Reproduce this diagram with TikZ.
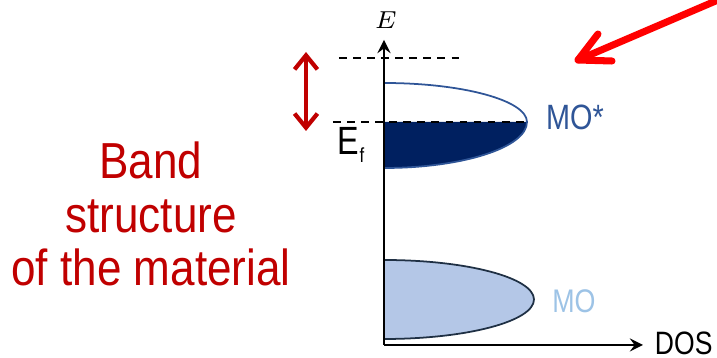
\documentclass[tikz,border=0pt]{standalone}
\usepackage{fontspec}
\usepackage{tikz}
\usetikzlibrary{arrows.meta}
\newfontfamily\narrowsans[FakeStretch=0.82]{Liberation Sans}
\newfontfamily\bandsans[FakeStretch=0.87]{Liberation Sans}
\definecolor{navyband}{HTML}{002060}
\definecolor{starblue}{HTML}{2F5597}
\definecolor{lightband}{HTML}{B4C7E7}
\definecolor{molabel}{HTML}{9DC3E6}
\definecolor{darkred}{HTML}{C00000}
\definecolor{bandedge}{HTML}{1F3044}

\begin{document}
\begin{tikzpicture}[>=stealth,x=0.01cm,y=-0.01cm,inner sep=0pt,outer sep=0pt]
  \useasboundingbox (0,0) rectangle (717,358);
  % bands
  \fill[lightband] (384,260) arc[start angle=-90,end angle=90,x radius=150,y radius=39.5];
  \draw[bandedge,line width=.5pt] (384,260) arc[start angle=-90,end angle=90,x radius=150,y radius=39.5];
  \fill[navyband] (384,122) -- (527,122) arc[start angle=0,end angle=90,x radius=143,y radius=46] -- cycle;
  \draw[starblue,line width=.5pt] (384,83) arc[start angle=-90,end angle=0,x radius=143,y radius=39]
    arc[start angle=0,end angle=90,x radius=143,y radius=46];
  % axes
  \coordinate (O) at (384,345);
  \coordinate (Etip) at (384,40);
  \coordinate (Dtip) at (643,345);
  \node (E) at (386,20) {\fontsize{7}{8}\selectfont$E$};
  \node[anchor=west,font=\narrowsans\fontsize{9.2}{10}\selectfont] (DOS) at (655,343) {DOS};
  \draw[->,line width=.65pt] (O) -- (Etip);
  \draw[->,line width=.65pt] (O) -- (Dtip);
  % levels
  \coordinate (Ltop) at (339,58);
  \coordinate (Rtop) at (465,58);
  \coordinate (Lf) at (333,122);
  \coordinate (Rf) at (527,122);
  \draw[dashed,line width=.45pt,dash pattern=on 2.2pt off 1.8pt] (Ltop) -- (Rtop);
  \draw[dashed,line width=.45pt,dash pattern=on 2.2pt off 1.8pt] (Lf) -- (Rf);
  \node[anchor=base west,font=\narrowsans\fontsize{11.2}{12}\selectfont] (Ef) at (338,155)
    {E\raisebox{-0.08cm}{\fontsize{5.8}{6}\selectfont f}};
  % labels
  \node[text=starblue,font=\narrowsans\fontsize{10}{11}\selectfont] (MOs) at (575,117) {MO*};
  \node[text=molabel,font=\narrowsans\fontsize{9.3}{10}\selectfont] (MO) at (574,301) {MO};
  \node[text=darkred,align=center,font=\bandsans\fontsize{14.4}{15.2}\selectfont] (band) at (151,214)
    {Band\\structure\\of the material};
  % red arrows
  \coordinate (Up) at (306,52);
  \coordinate (Dn) at (306,131);
  \draw[darkred,line width=1.2pt,{Straight Barb[length=4pt,width=6.5pt]}-{Straight Barb[length=4pt,width=6.5pt]}] (Up) -- (Dn);
  \coordinate (Rstart) at (725,-3);
  \coordinate (Rtip) at (578,60);
  \coordinate (Rarm1) at (598,34);
  \coordinate (Rarm2) at (612,61);
  \draw[red,line width=2pt,line cap=round,line join=round] (Rstart) -- (Rtip);
  \draw[red,line width=2pt,line cap=round,line join=round] (Rarm1) -- (Rtip) -- (Rarm2);
\end{tikzpicture}
\end{document}
